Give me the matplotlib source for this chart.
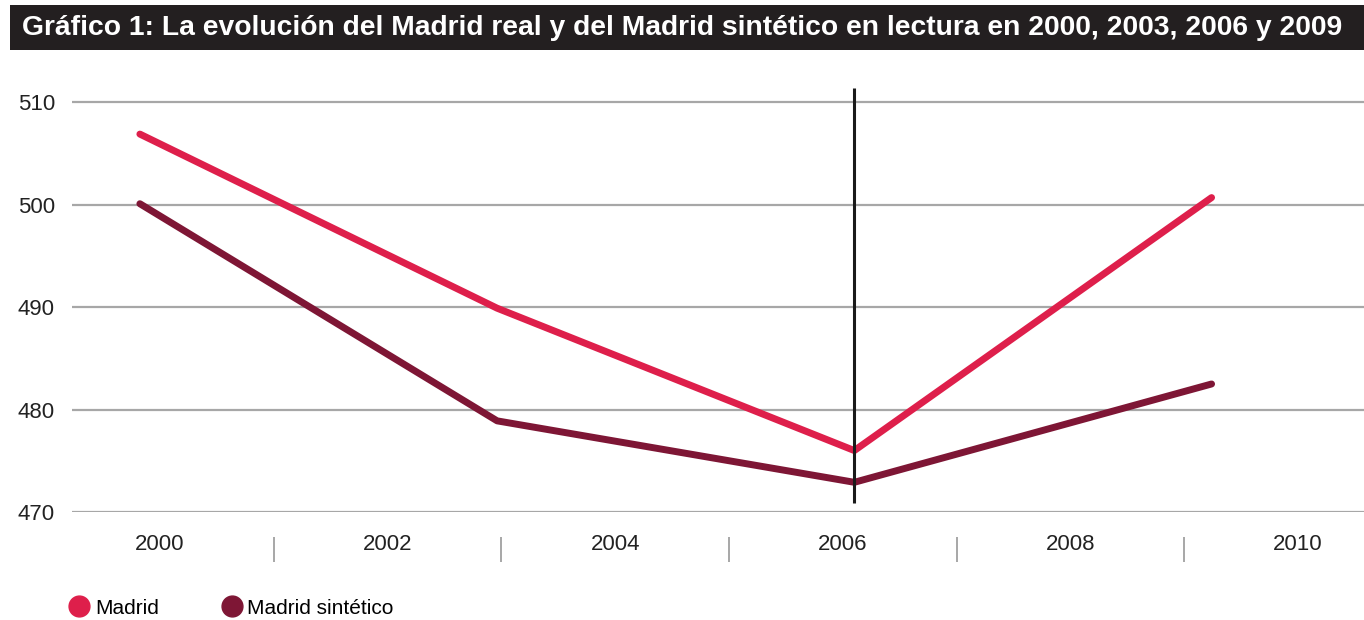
import matplotlib
matplotlib.use("Agg")
import matplotlib.pyplot as plt
from matplotlib.lines import Line2D
from matplotlib.patches import Rectangle

# data
years = [2000, 2003, 2006, 2009]
madrid = [506.9, 489.9, 476.0, 500.7]
madrid_sintetico = [500.1, 478.9, 472.9, 482.5]
label_years = [2000, 2002, 2004, 2006, 2008, 2010]
sep_years = [2001, 2003, 2005, 2007, 2009]
y_ticks = [470, 480, 490, 500, 510]
tratamiento = 2006

titulo = "Gráfico 1: La evolución del Madrid real y del Madrid sintético en lectura en 2000, 2003, 2006 y 2009"

c_madrid = "#DE1F4B"
c_sint = "#7E1635"
c_grid = "#A7A7A7"

plt.rcParams["font.family"] = ["Liberation Sans", "DejaVu Sans"]

fig = plt.figure(figsize=(13.64, 6.2), dpi=100)
ax = fig.add_axes([72/1364, 1-512/620, 1-72/1364, 424/620])

ax.plot(years, madrid, color=c_madrid, lw=5, solid_capstyle="round", zorder=3)
ax.plot(years, madrid_sintetico, color=c_sint, lw=5, solid_capstyle="round", zorder=3)
ax.vlines(tratamiento, 470.9, 511.4, color="#1a1a1a", lw=2.2, zorder=4)

ax.set_xlim(1999.43, 2010.28)
ax.set_ylim(470, 511.4)
ax.set_yticks(y_ticks)
ax.yaxis.grid(True, color=c_grid, lw=1.6)
ax.set_axisbelow(True)
ax.tick_params(axis="y", length=0, pad=39, labelsize=16, labelcolor="#222222")
for lbl in ax.get_yticklabels():
    lbl.set_horizontalalignment("left")
ax.set_xticks([])
for s in ax.spines.values():
    s.set_visible(False)

# category labels live on their own scale, like the source chart
ax2 = ax.twiny()
ax2.set_xlim(1999.227, 2010.58)
ax2.xaxis.set_ticks_position("bottom")
ax2.xaxis.set_label_position("bottom")
ax2.spines["bottom"].set_position(("outward", 18))
for s in ax2.spines.values():
    s.set_visible(False)
ax2.set_xticks(label_years)
ax2.set_xticklabels([str(y) for y in label_years])
ax2.set_xticks(sep_years, minor=True)
ax2.tick_params(axis="x", which="major", length=0, pad=-2, labelsize=16, labelcolor="#222222")
ax2.tick_params(axis="x", which="minor", length=18, width=1.4, color=c_grid, direction="out")

# title bar
fig.add_artist(Rectangle((10/1364, 1-50/620), 1-10/1364, 45/620, transform=fig.transFigure,
                         facecolor="#231F20", edgecolor="none"))
fig.text(22/1364, 1-28/620, titulo, color="white", fontsize=20.3, fontweight="bold",
         family=["Liberation Sans Narrow", "Liberation Sans", "DejaVu Sans"], va="center", ha="left")

handles = [Line2D([], [], marker="o", ls="none", color=c_madrid, markersize=15),
           Line2D([], [], marker="o", ls="none", color=c_sint, markersize=15)]
fig.legend(handles, ["Madrid", "Madrid sintético"], loc="center left", bbox_to_anchor=(50/1364, 1-608/620),
           ncol=2, frameon=False, fontsize=15, handletextpad=0.25, columnspacing=3.0, handlelength=1)

fig.savefig("out.png", dpi=100)
